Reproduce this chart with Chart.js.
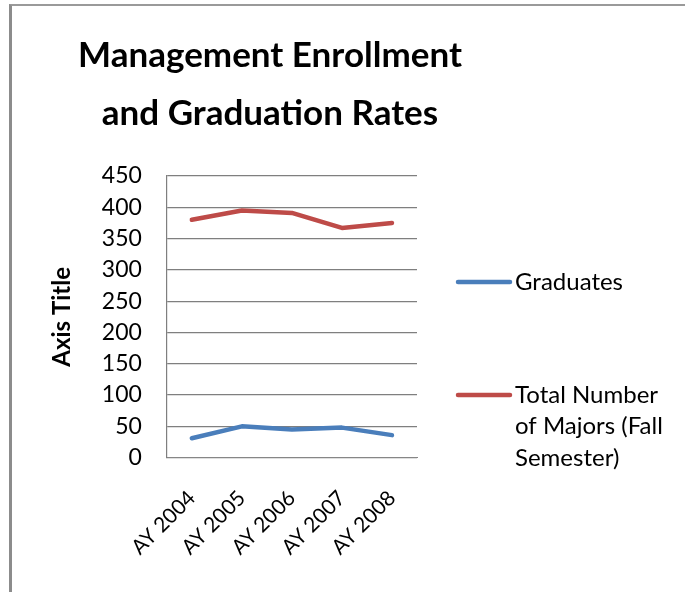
<!DOCTYPE html>
<html>
<head>
<meta charset="utf-8">
<script src="https://cdn.jsdelivr.net/npm/chart.js@4"></script>
<style>
html, body { margin: 0; padding: 0; background: #fff; }
#wrap { position: relative; width: 685px; height: 592px; overflow: hidden; }
#frame { position: absolute; left: 9px; top: 4px; width: 700px; height: 620px;
         border-left: 3px solid #8c8c8c; border-top: 2px solid #9a9a9a; }
canvas { position: absolute; left: 0; top: 0; }
</style>
</head>
<body>
<div id="wrap">
  <div id="frame"></div>
  <canvas id="myChart" width="685" height="592"></canvas>
</div>
<script>
var years = ['AY 2004', 'AY 2005', 'AY 2006', 'AY 2007', 'AY 2008'];
var graduates = [31, 50, 45, 48, 36];
var totalMajors = [380, 395, 391, 367, 375];
var seriesNames = ['Graduates', 'Total Number of Majors (Fall Semester)'];
var chartTitle = ['Management Enrollment', 'and Graduation Rates'];

var FONT = 'Lato, "Open Sans", sans-serif';

// title drawn over the left part, like the Excel chart area
var titlePlugin = {
    id: 'excelTitle',
    afterDraw: function(chart) {
        var ctx = chart.ctx;
        ctx.save();
        ctx.fillStyle = '#000';
        ctx.font = 'bold 35px ' + FONT;
        ctx.textAlign = 'center';
        ctx.textBaseline = 'alphabetic';
        ctx.fillText(chartTitle[0], 270, 67);
        ctx.fillText(chartTitle[1], 270, 125);
        ctx.restore();
    }
};

// legend on the right, with wrapped text
function wrapText(ctx, text, maxWidth) {
    var words = text.split(' ');
    var lines = [];
    var line = '';
    words.forEach(function(w) {
        var test = line ? line + ' ' + w : w;
        if (ctx.measureText(test).width > maxWidth && line) {
            lines.push(line);
            line = w;
        } else {
            line = test;
        }
    });
    lines.push(line);
    return lines;
}

var legendPlugin = {
    id: 'sideLegend',
    afterDraw: function(chart) {
        var ctx = chart.ctx;
        var rows = [282, 395];
        ctx.save();
        ctx.font = '24px ' + FONT;
        ctx.textBaseline = 'middle';
        ctx.textAlign = 'left';
        chart.data.datasets.forEach(function(ds, i) {
            var y = rows[i];
            ctx.strokeStyle = ds.borderColor;
            ctx.lineWidth = 4.5;
            ctx.lineCap = 'round';
            ctx.beginPath();
            ctx.moveTo(458, y);
            ctx.lineTo(510, y);
            ctx.stroke();
            ctx.fillStyle = '#000';
            var lines = wrapText(ctx, ds.label, 162);
            lines.forEach(function(l, j) {
                ctx.fillText(l, 515, y + j * 31.5);
            });
        });
        ctx.restore();
    }
};

var ctx = document.getElementById('myChart').getContext('2d');
var myChart = new Chart(ctx, {
    type: 'line',
    data: {
        labels: years,
        datasets: [{
            label: seriesNames[0],
            data: graduates,
            borderColor: '#4a7ebb',
            backgroundColor: '#4a7ebb',
            borderWidth: 4.5,
            pointRadius: 0,
            borderCapStyle: 'round',
            borderJoinStyle: 'round',
            tension: 0
        },
        {
            label: seriesNames[1],
            data: totalMajors,
            borderColor: '#be4b48',
            backgroundColor: '#be4b48',
            borderWidth: 4.5,
            pointRadius: 0,
            borderCapStyle: 'round',
            borderJoinStyle: 'round',
            tension: 0
        }]
    },
    options: {
        responsive: false,
        animation: false,
        layout: {
            padding: { left: 10, top: 176, right: 268, bottom: 12 }
        },
        plugins: {
            legend: { display: false },
            title: { display: false },
            tooltip: { enabled: false }
        },
        scales: {
            x: {
                offset: true,
                grid: { display: false },
                border: { display: true, color: '#868686', width: 1 },
                ticks: {
                    autoSkip: false,
                    maxRotation: 45,
                    minRotation: 45,
                    padding: 20,
                    color: '#000',
                    font: { family: FONT, size: 21 }
                }
            },
            y: {
                min: 0,
                max: 450,
                grid: { color: '#7f7f7f', lineWidth: 1.2, drawTicks: false },
                border: { display: true, color: '#7f7f7f', width: 1.2 },
                ticks: {
                    stepSize: 50,
                    padding: 25,
                    color: '#000',
                    font: { family: FONT, size: 23 }
                },
                title: {
                    display: true,
                    text: 'Axis Title',
                    color: '#000',
                    font: { family: FONT, size: 24, weight: 'bold', lineHeight: 1.2 },
                    padding: { top: 38, bottom: 0 }
                }
            }
        }
    },
    plugins: [titlePlugin, legendPlugin]
});
</script>
</body>
</html>
